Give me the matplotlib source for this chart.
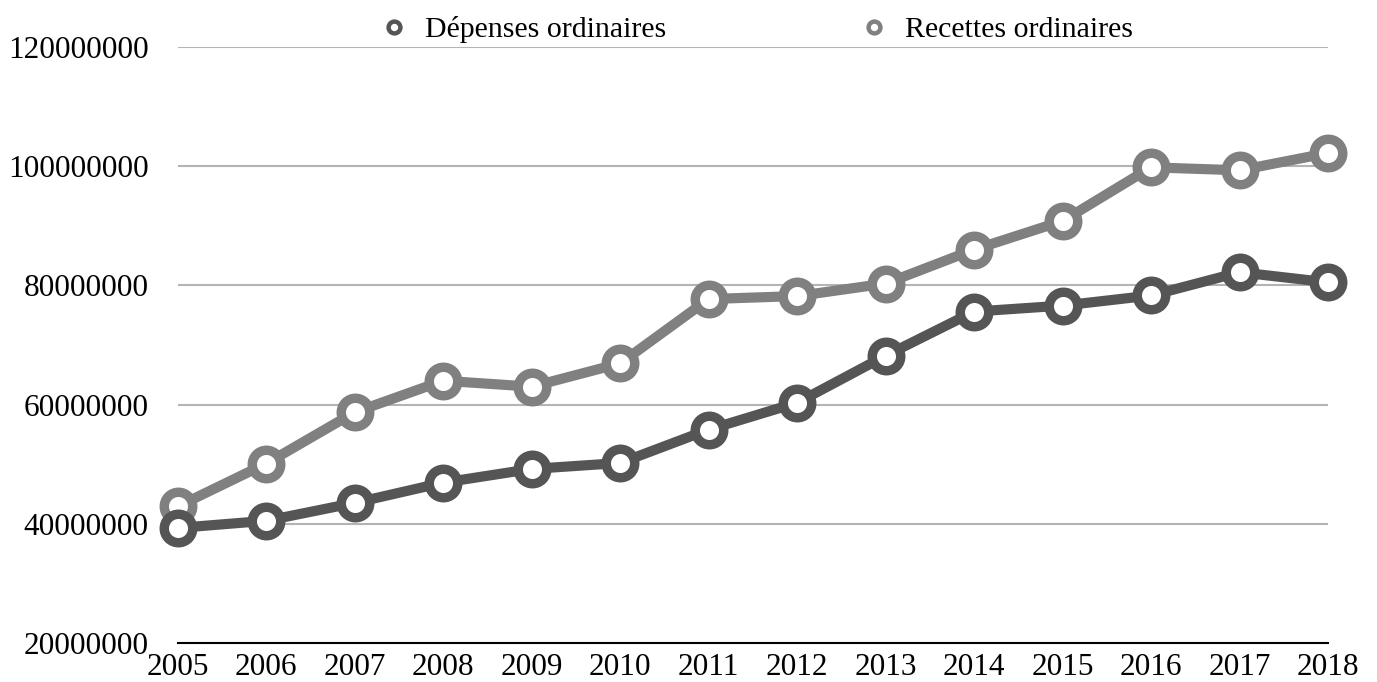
import numpy as np
import matplotlib.pyplot as plt
from matplotlib.lines import Line2D

years = list(range(2005, 2019))
depenses = [39.3e6, 40.5e6, 43.5e6, 46.9e6, 49.2e6, 50.2e6, 55.8e6, 60.3e6,
            68.2e6, 75.6e6, 76.6e6, 78.3e6, 82.2e6, 80.5e6]
recettes = [42.9e6, 50.1e6, 58.7e6, 64.0e6, 63.0e6, 66.9e6, 77.7e6, 78.2e6,
            80.3e6, 86.0e6, 90.8e6, 99.8e6, 99.3e6, 102.2e6]
labels = ['Dépenses ordinaires', 'Recettes ordinaires']

dark = '#555555'
light = '#808080'

plt.rcParams['font.family'] = ['Liberation Serif', 'DejaVu Serif']

fig = plt.figure(figsize=(13.77, 6.82), dpi=100)
ax = fig.add_axes([0.129, 0.0572, 0.8355, 0.874])

ax.plot(years, recettes, color=light, lw=7.3, marker='o', ms=20.5,
        mfc='white', mec=light, mew=6.8, clip_on=False, zorder=3)
ax.plot(years, depenses, color=dark, lw=7.3, marker='o', ms=20.5,
        mfc='white', mec=dark, mew=6.8, clip_on=False, zorder=4)

ax.set_xlim(2005, 2018)
ax.set_ylim(20000000, 120000000)
ax.set_yticks(np.arange(20000000, 120000001, 20000000))
ax.set_yticklabels([str(v) for v in range(20000000, 120000001, 20000000)])
ax.set_xticks(years)
ax.yaxis.grid(True, color='#b4b4b4', lw=1.5)
ax.set_axisbelow(True)
for s in ['top', 'right', 'left']:
    ax.spines[s].set_visible(False)
ax.spines['bottom'].set_color('black')
ax.spines['bottom'].set_linewidth(1.5)
ax.tick_params(axis='both', length=0, labelsize=22.5)
ax.tick_params(axis='y', pad=21)
ax.tick_params(axis='x', pad=7)

handles = [Line2D([], [], color=c, marker='o', ms=8.5, mfc='white', mec=c,
                  mew=3.2, lw=0) for c in (dark, light)]
fig.legend(handles, labels, loc='upper center', bbox_to_anchor=(0.5465, 1.016),
           ncol=2, frameon=False, fontsize=21.5, columnspacing=6.2,
           handletextpad=0.3, handlelength=1.5)

fig.savefig('out.png', dpi=100)
